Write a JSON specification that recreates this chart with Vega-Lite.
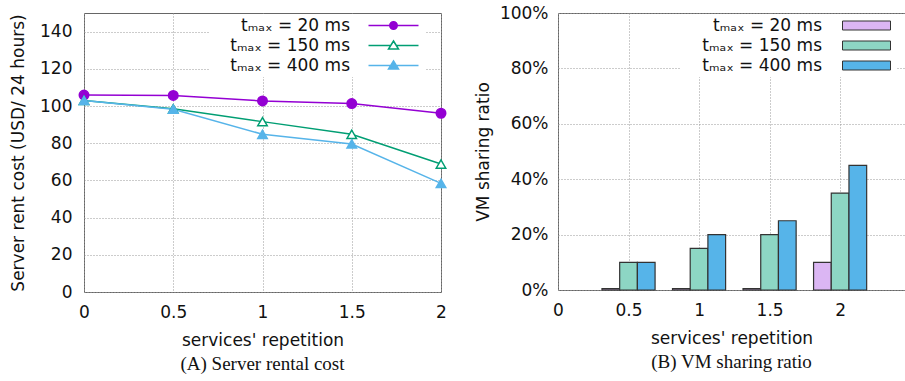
{
  "$schema": "https://vega.github.io/schema/vega-lite/v6.json",
  "padding": {"left": 9, "top": 3, "right": 0, "bottom": 0},
  "background": "white",
  "bounds": "flush",
  "spacing": 117,
  "config": {
    "font": "DejaVu Sans",
    "view": {"stroke": "#666", "strokeWidth": 1},
    "axis": {"domain": false, "ticks": false, "labelFlush": false, "labelFont": "DejaVu Sans", "labelFontSize": 17, "labelColor": "#111", "titleFont": "DejaVu Sans", "titleFontSize": 17, "titleFontWeight": "normal", "titleColor": "#111", "labelPadding": 12, "gridColor": "#999", "gridDash": [1, 2], "gridWidth": 1},
    "legend": {"title": null, "fillColor": "white", "padding": 3, "rowPadding": 2, "symbolSize": 100, "symbolOpacity": 1, "labelAlign": "right", "labelFont": "DejaVu Sans", "labelFontSize": 17, "labelColor": "#111"},
    "title": {"font": "Liberation Serif", "fontSize": 19, "fontWeight": "normal", "color": "#111"}
  },
  "resolve": {"scale": {"x": "independent", "y": "independent", "color": "independent", "fill": "independent", "shape": "independent", "stroke": "independent"}},
  "hconcat": [
    {
      "width": 357,
      "height": 279,
      "title": {"text": "(A) Server rental cost", "orient": "bottom", "offset": 7},
      "data": {"values": [
        {"rep": 0, "tmax": "20", "cost": 105.9},
        {"rep": 0.5, "tmax": "20", "cost": 105.7},
        {"rep": 1, "tmax": "20", "cost": 102.7},
        {"rep": 1.5, "tmax": "20", "cost": 101.3},
        {"rep": 2, "tmax": "20", "cost": 96.1},
        {"rep": 0, "tmax": "150", "cost": 103},
        {"rep": 0.5, "tmax": "150", "cost": 98.5},
        {"rep": 1, "tmax": "150", "cost": 91.6},
        {"rep": 1.5, "tmax": "150", "cost": 84.8},
        {"rep": 2, "tmax": "150", "cost": 68.8},
        {"rep": 0, "tmax": "400", "cost": 103},
        {"rep": 0.5, "tmax": "400", "cost": 98.3},
        {"rep": 1, "tmax": "400", "cost": 84.8},
        {"rep": 1.5, "tmax": "400", "cost": 79.6},
        {"rep": 2, "tmax": "400", "cost": 58.4}
      ]},
      "encoding": {
        "x": {"field": "rep", "type": "quantitative", "scale": {"domain": [0, 2], "nice": false}, "axis": {"values": [0, 0.5, 1, 1.5, 2], "format": "~g", "title": "services' repetition", "titlePadding": 12}},
        "y": {"field": "cost", "type": "quantitative", "scale": {"domain": [0, 150], "nice": false}, "axis": {"values": [0, 20, 40, 60, 80, 100, 120, 140], "title": "Server rent cost (USD/ 24 hours)", "titlePadding": 12}}
      },
      "resolve": {"scale": {"shape": "independent", "fill": "independent", "stroke": "independent"}},
      "layer": [
        {"mark": {"type": "line", "strokeWidth": 1.5},
          "encoding": {
            "stroke": {"field": "tmax", "type": "nominal", "scale": {"domain": ["20", "150", "400"], "range": ["#9400d3", "#009e73", "#56b4e9"]}, "legend": null}
          }
        },
        {"mark": {"type": "point", "filled": false, "size": 90, "strokeWidth": 1.5, "opacity": 1},
          "encoding": {
            "stroke": {"field": "tmax", "type": "nominal", "scale": {"domain": ["20", "150", "400"], "range": ["#9400d3", "#009e73", "#56b4e9"]}, "legend": null},
            "shape": {"field": "tmax", "type": "nominal", "scale": {"domain": ["20", "150", "400"], "range": ["circle", "triangle-up", "triangle-up"]}, "legend": null},
            "fill": {"field": "tmax", "type": "nominal", "scale": {"domain": ["20", "150", "400"], "range": ["#9400d3", "#ffffff", "#56b4e9"]}, "legend": null}
          }
        },
        {"mark": {"type": "point", "filled": false, "strokeWidth": 1.5, "opacity": 0},
          "encoding": {
            "stroke": {"field": "tmax", "type": "nominal", "scale": {"domain": ["20", "150", "400"], "range": ["#9400d3", "#009e73", "#56b4e9"]},
              "legend": {"orient": "none", "legendX": 125, "legendY": 1, "symbolStrokeWidth": 1.5, "symbolOffset": 173, "labelOffset": -52, "labelExpr": "'tₘₐₓ = ' + datum.label + ' ms'"}},
            "shape": {"field": "tmax", "type": "nominal", "scale": {"domain": ["20", "150", "400"], "range": ["M-5,0H5M-0.75,0A0.75,0.75,0,1,1,0.75,0A0.75,0.75,0,1,1,-0.75,0Z", "M-5,0H-0.56M0.56,0H5M0,-0.9L1,0.7L-1,0.7Z", "M-5,0H-0.56M0.56,0H5M0,-0.9L1,0.7L-1,0.7Z"]},
              "legend": {"orient": "none", "legendX": 125, "legendY": 1, "symbolStrokeWidth": 1.5, "symbolOffset": 173, "labelOffset": -52, "labelExpr": "'tₘₐₓ = ' + datum.label + ' ms'"}},
            "fill": {"field": "tmax", "type": "nominal", "scale": {"domain": ["20", "150", "400"], "range": ["#9400d3", "#ffffff", "#56b4e9"]},
              "legend": {"orient": "none", "legendX": 125, "legendY": 1, "symbolStrokeWidth": 1.5, "symbolOffset": 173, "labelOffset": -52, "labelExpr": "'tₘₐₓ = ' + datum.label + ' ms'"}}
          }
        }
      ]
    },
    {
      "width": 347,
      "height": 277,
      "title": {"text": "(B) VM sharing ratio", "orient": "bottom", "offset": 7},
      "data": {"values": [
        {"rep": 0.5, "tmax": "20", "share": 0.005},
        {"rep": 0.5, "tmax": "150", "share": 0.10},
        {"rep": 0.5, "tmax": "400", "share": 0.10},
        {"rep": 1, "tmax": "20", "share": 0.005},
        {"rep": 1, "tmax": "150", "share": 0.15},
        {"rep": 1, "tmax": "400", "share": 0.20},
        {"rep": 1.5, "tmax": "20", "share": 0.005},
        {"rep": 1.5, "tmax": "150", "share": 0.20},
        {"rep": 1.5, "tmax": "400", "share": 0.25},
        {"rep": 2, "tmax": "20", "share": 0.10},
        {"rep": 2, "tmax": "150", "share": 0.35},
        {"rep": 2, "tmax": "400", "share": 0.45}
      ]},
      "encoding": {
        "x": {"field": "rep", "type": "quantitative", "scale": {"domain": [0, 2.46], "nice": false, "padding": 0}, "axis": {"values": [0, 0.5, 1, 1.5, 2], "format": "~g", "title": "services' repetition", "titlePadding": 12}},
        "y": {"field": "share", "type": "quantitative", "stack": null, "scale": {"domain": [0, 1], "nice": false, "padding": 0}, "axis": {"values": [0, 0.2, 0.4, 0.6, 0.8, 1], "format": ".0%", "title": "VM sharing ratio", "titlePadding": 7, "labelPadding": 10}},
        "fill": {"field": "tmax", "type": "nominal", "scale": {"domain": ["20", "150", "400"], "range": ["#dbb6f3", "#8dd6c4", "#56b4e9"]},
          "legend": {"orient": "none", "legendX": 122, "legendY": 1, "symbolType": "M-4.8,-0.9H4.8V0.9H-4.8Z", "symbolStrokeColor": "#333", "symbolStrokeWidth": 1, "symbolOffset": 175, "labelOffset": -53, "labelExpr": "'tₘₐₓ = ' + datum.label + ' ms'"}
        }
      },
      "layer": [
        {"transform": [{"filter": "datum.tmax == '20'"}], "mark": {"type": "bar", "width": 17.7, "xOffset": -17.7, "stroke": "#333", "strokeWidth": 1.2}},
        {"transform": [{"filter": "datum.tmax == '150'"}], "mark": {"type": "bar", "width": 17.7, "xOffset": 0, "stroke": "#333", "strokeWidth": 1.2}},
        {"transform": [{"filter": "datum.tmax == '400'"}], "mark": {"type": "bar", "width": 17.7, "xOffset": 17.7, "stroke": "#333", "strokeWidth": 1.2}}
      ]
    }
  ]
}
